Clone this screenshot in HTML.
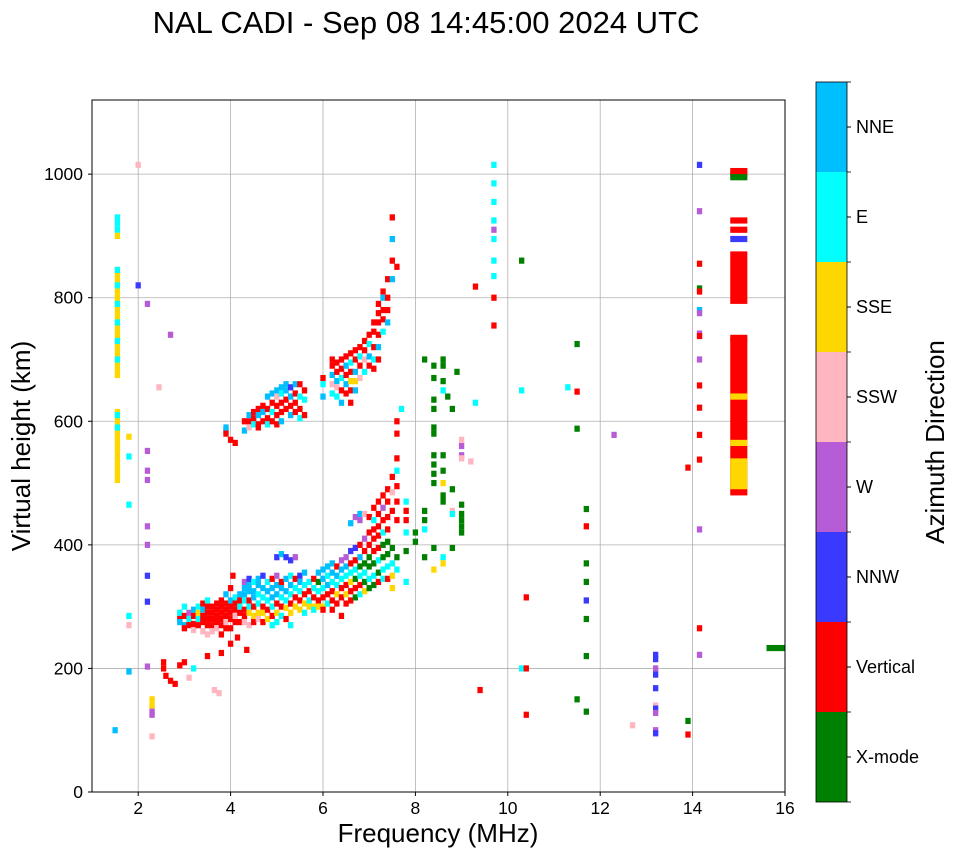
<!DOCTYPE html>
<html><head><meta charset="utf-8"><style>
body{margin:0;background:#fff;font-family:"Liberation Sans",sans-serif}
</style></head><body>
<svg id="chart" width="958" height="857" xmlns="http://www.w3.org/2000/svg" font-family="Liberation Sans, sans-serif">
<text x="426" y="33" font-size="31" text-anchor="middle">NAL CADI - Sep 08 14:45:00 2024 UTC</text>
<g id="grid"></g>
<g id="marks"></g>
<rect x="92" y="100" width="693" height="692" fill="none" stroke="#000" stroke-width="1"/>
<g id="axes"></g>
<text x="438" y="842" font-size="26" text-anchor="middle">Frequency (MHz)</text>
<text transform="translate(30,446) rotate(-90)" font-size="26" text-anchor="middle">Virtual height (km)</text>
<g id="cbar"></g>
<text transform="translate(944,442) rotate(-90)" font-size="26" text-anchor="middle">Azimuth Direction</text>
</svg>
<script>
const colorNames=["X-mode","Vertical","NNW","W","SSW","SSE","E","NNE"];
const colorValues=["#008000","#ff0000","#3a3aff","#b65cd6","#ffb6c1","#ffd700","#00ffff","#00bfff"];
const xTicks=[2,4,6,8,10,12,14,16];
const yTicks=[0,200,400,600,800,1000];
const spanFreqs=[1.55,1.55,15,15,15];
const spanLows=[670,500,790,490,485];
const spanHighs=[850,620,875,735,540];
const spanColors=[5,5,1,1,5];
const pts=[
[1.55,930,6],[1.55,920,6],[1.55,910,6],[1.55,900,5],[1.55,845,6],[1.55,820,6],[1.55,790,6],[1.55,760,6],[1.55,730,6],[1.55,700,6],[1.55,610,6],[1.55,590,6],
[2,1015,4],[2,820,2],[2.2,790,3],[2.2,552,3],[2.2,520,3],[2.2,505,3],[2.2,430,3],[2.2,400,3],[2.2,350,2],[2.2,308,2],[2.2,203,3],[1.8,575,5],[1.8,543,6],[1.8,465,6],[1.8,285,6],[1.8,270,4],[1.8,195,7],[1.5,100,7],[2.3,150,5],[2.3,140,5],[2.3,130,3],[2.3,125,3],[2.3,90,4],[2.45,655,4],[2.7,740,3],[2.55,210,1],[2.55,200,1],[2.6,188,1],[2.7,180,1],[2.8,175,1],[2.9,205,1],[3.0,210,1],[3.1,185,4],[3.2,200,6],[3.5,220,1],[3.65,165,4],[3.75,160,4],[3.8,225,1],[4.0,240,1],[4.05,350,1],[4.15,250,1],[4.35,230,1],
[2.9,290,6],[2.9,280,1],[2.9,275,7],[3.0,300,6],[3.0,285,1],[3.0,270,7],[3.0,265,1],[3.1,290,3],[3.1,280,6],[3.1,270,1],[3.2,295,7],[3.2,285,1],[3.2,272,1],[3.2,262,4],[3.3,300,6],[3.3,290,5],[3.3,280,6],[3.3,270,1],
[3.4,305,1],[3.4,295,7],[3.4,285,1],[3.4,275,1],[3.4,260,4],[3.5,310,6],[3.5,300,1],[3.5,290,1],[3.5,280,1],[3.5,270,1],[3.5,255,4],[3.6,300,1],[3.6,290,1],[3.6,280,1],[3.6,270,1],[3.6,260,4],[3.7,305,1],[3.7,295,1],[3.7,285,1],[3.7,275,1],[3.7,265,4],
[3.8,310,1],[3.8,300,1],[3.8,290,1],[3.8,280,1],[3.8,270,1],[3.8,255,1],[3.9,320,7],[3.9,305,1],[3.9,295,1],[3.9,285,1],[3.9,275,4],[3.9,265,1],[4.0,330,1],[4.0,310,7],[4.0,300,1],[4.0,290,1],[4.0,280,1],[4.0,265,1],
[4.1,315,6],[4.1,305,1],[4.1,295,1],[4.1,285,4],[4.1,275,1],[4.2,320,7],[4.2,310,1],[4.2,300,6],[4.2,290,1],[4.2,275,1],[4.3,340,3],[4.3,330,7],[4.3,320,7],[4.3,310,6],[4.3,295,1],[4.3,285,1],[4.3,275,4],
[4.4,345,2],[4.4,335,7],[4.4,325,7],[4.4,310,1],[4.4,300,6],[4.4,290,5],[4.4,270,4],[4.5,340,6],[4.5,325,7],[4.5,315,7],[4.5,300,1],[4.5,285,5],[4.5,275,1],[4.6,345,7],[4.6,335,7],[4.6,320,6],[4.6,305,6],[4.6,290,5],[4.6,280,4],
[4.7,350,2],[4.7,330,7],[4.7,315,6],[4.7,300,1],[4.7,290,5],[4.7,275,1],[4.8,340,6],[4.8,325,7],[4.8,310,6],[4.8,295,1],[4.8,280,5],[4.9,345,1],[4.9,330,7],[4.9,315,7],[4.9,300,6],[4.9,285,1],[4.9,270,6],
[5.0,380,2],[5.0,350,3],[5.0,335,7],[5.0,320,7],[5.0,305,1],[5.0,290,5],[5.0,275,6],[5.1,385,7],[5.1,340,1],[5.1,330,7],[5.1,315,6],[5.1,300,1],[5.1,285,6],[5.2,380,2],[5.2,345,7],[5.2,325,7],[5.2,310,6],[5.2,298,5],[5.2,280,1],
[5.3,375,2],[5.3,350,6],[5.3,335,7],[5.3,320,6],[5.3,305,1],[5.3,290,5],[5.3,270,6],[5.4,380,3],[5.4,345,1],[5.4,330,6],[5.4,315,1],[5.4,300,5],[5.5,350,2],[5.5,340,7],[5.5,325,6],[5.5,310,1],[5.5,295,5],
[5.6,355,7],[5.6,335,6],[5.6,320,1],[5.6,305,5],[5.6,290,6],[5.7,340,6],[5.7,325,1],[5.7,310,6],[5.7,300,5],[5.8,345,1],[5.8,330,6],[5.8,315,1],[5.8,300,5],[5.8,295,6],[5.9,355,7],[5.9,340,0],[5.9,325,6],[5.9,310,1],[5.9,300,5],
[6.0,360,7],[6.0,345,7],[6.0,330,6],[6.0,315,1],[6.0,300,5],[6.0,295,1],[6.1,365,7],[6.1,350,6],[6.1,335,7],[6.1,320,1],[6.1,305,6],[6.2,370,7],[6.2,355,7],[6.2,340,6],[6.2,325,1],[6.2,310,1],[6.2,295,1],
[6.3,365,1],[6.3,350,7],[6.3,335,6],[6.3,320,5],[6.3,305,1],[6.4,375,3],[6.4,360,7],[6.4,345,6],[6.4,330,1],[6.4,315,1],[6.4,285,1],[6.5,380,3],[6.5,365,7],[6.5,350,6],[6.5,335,1],[6.5,320,5],[6.5,305,1],
[6.6,435,7],[6.6,390,2],[6.6,370,1],[6.6,355,6],[6.6,340,5],[6.6,325,1],[6.6,310,1],[6.7,445,3],[6.7,395,2],[6.7,375,1],[6.7,360,6],[6.7,345,0],[6.7,330,1],[6.7,315,0],
[6.8,450,7],[6.8,440,3],[6.8,400,1],[6.8,380,7],[6.8,365,0],[6.8,350,6],[6.8,335,1],[6.8,320,6],[6.9,450,4],[6.9,410,3],[6.9,390,1],[6.9,370,0],[6.9,355,6],[6.9,340,0],[6.9,325,5],
[7.0,445,1],[7.0,420,1],[7.0,400,1],[7.0,380,0],[7.0,365,0],[7.0,345,6],[7.0,330,0],[7.1,460,1],[7.1,440,6],[7.1,425,1],[7.1,410,1],[7.1,390,1],[7.1,370,0],[7.1,350,6],[7.1,335,0],
[7.2,470,1],[7.2,450,1],[7.2,430,1],[7.2,415,1],[7.2,395,1],[7.2,375,6],[7.2,355,0],[7.2,340,1],[7.3,480,1],[7.3,460,3],[7.3,440,1],[7.3,420,6],[7.3,400,0],[7.3,380,0],[7.3,360,6],[7.3,345,6],
[7.4,490,1],[7.4,470,1],[7.4,445,1],[7.4,425,1],[7.4,405,0],[7.4,385,0],[7.4,365,6],[7.4,345,1],[7.5,510,1],[7.5,485,4],[7.5,455,1],[7.5,395,0],[7.5,370,6],[7.5,350,5],[7.5,330,5],
[7.6,600,1],[7.6,580,1],[7.6,540,1],[7.6,520,6],[7.6,495,1],[7.6,470,1],[7.6,440,1],[7.6,360,6],[7.8,470,6],[7.8,455,1],[7.8,440,1],[7.8,420,6],[7.8,340,6],[7.7,620,6],
[3.9,590,7],[3.9,585,7],[3.9,580,1],[4.0,570,1],[4.1,565,1],[4.3,600,1],[4.3,585,7],[4.4,600,1],[4.4,610,7],[4.4,590,4],[4.5,615,1],[4.5,605,1],[4.5,595,6],[4.6,620,1],[4.6,610,7],[4.6,595,1],[4.6,590,1],
[4.7,625,1],[4.7,615,7],[4.7,600,1],[4.8,640,7],[4.8,620,1],[4.8,605,1],[4.8,595,6],[4.9,645,7],[4.9,630,1],[4.9,615,6],[4.9,600,1],[5.0,650,7],[5.0,640,4],[5.0,625,1],[5.0,610,1],[5.0,595,1],
[5.1,655,7],[5.1,645,6],[5.1,630,1],[5.1,615,1],[5.1,600,7],[5.2,660,7],[5.2,650,7],[5.2,635,1],[5.2,620,1],[5.3,655,2],[5.3,640,7],[5.3,625,1],[5.3,610,7],[5.4,660,7],[5.4,645,1],[5.4,630,1],[5.4,615,1],
[5.5,660,1],[5.5,640,6],[5.5,620,1],[5.5,605,6],[5.6,650,1],[5.6,635,6],[5.6,610,1],[6.0,670,1],[6.0,660,6],[6.0,640,7],
[6.2,700,1],[6.2,690,1],[6.2,675,7],[6.2,660,4],[6.2,645,6],[6.3,695,1],[6.3,680,1],[6.3,665,7],[6.3,655,4],[6.3,640,6],[6.4,700,1],[6.4,685,1],[6.4,670,6],[6.4,650,1],[6.4,630,7],
[6.5,705,1],[6.5,690,7],[6.5,675,1],[6.5,660,7],[6.5,645,1],[6.6,710,1],[6.6,695,6],[6.6,680,1],[6.6,665,5],[6.6,650,1],[6.6,630,1],[6.7,715,1],[6.7,700,1],[6.7,680,7],[6.7,665,5],[6.7,650,7],
[6.8,720,1],[6.8,705,6],[6.8,690,1],[6.8,670,4],[6.9,730,1],[6.9,715,1],[6.9,700,4],[6.9,680,6],[7.0,740,1],[7.0,725,6],[7.0,705,7],[7.0,690,1],[7.1,760,1],[7.1,745,1],[7.1,720,1],[7.1,700,6],[7.1,685,1],
[7.2,790,1],[7.2,775,1],[7.2,760,1],[7.2,740,1],[7.2,720,7],[7.2,700,1],[7.3,810,1],[7.3,800,7],[7.3,780,1],[7.3,765,1],[7.3,745,6],[7.4,830,1],[7.4,800,1],[7.4,780,1],[7.4,760,7],[7.5,930,1],[7.5,895,7],[7.5,860,1],[7.5,830,7],[7.6,850,1],
[8.2,700,0],[8.4,690,0],[8.4,670,0],[8.4,635,0],[8.4,620,0],[8.6,700,0],[8.6,690,0],[8.6,665,0],[8.6,650,6],[8.7,640,0],[8.8,620,0],[8.9,680,0],[8.4,590,0],[8.4,580,0],[8.4,545,0],[8.4,530,0],[8.4,515,0],[8.4,500,0],[8.6,545,0],[8.6,520,0],[8.6,500,5],[8.6,480,0],[8.6,470,0],[8.8,490,0],[9.0,560,3],[9.0,570,4],[9.0,545,3],[9.0,540,4],[9.0,465,0],[9.0,450,0],[9.0,440,0],[9.0,430,0],[9.0,420,0],[8.8,455,4],[8.8,450,6],[8.2,455,0],[8.2,440,0],[8.2,425,6],[8.0,420,0],[8.0,405,0],[8.4,395,0],[8.6,380,6],[8.6,370,5],[8.4,360,5],[8.8,395,0],[8.2,380,0],[7.8,390,0],[7.6,380,0],
[9.2,535,4],[9.3,630,6],[9.3,818,1],[9.4,165,1],[9.7,1015,6],[9.7,985,6],[9.7,955,6],[9.7,925,6],[9.7,910,3],[9.7,895,6],[9.7,860,6],[9.7,835,6],[9.7,800,1],[9.7,755,1],
[10.3,860,0],[10.3,650,6],[10.3,200,6],[10.4,315,1],[10.4,200,1],[10.4,125,1],[11.3,655,6],[11.5,725,0],[11.5,648,1],[11.5,588,0],[11.5,150,0],[11.7,458,0],[11.7,430,1],[11.7,370,0],[11.7,340,0],[11.7,310,2],[11.7,280,0],[11.7,220,0],[11.7,130,0],[12.3,578,3],[12.7,108,4],
[13.2,222,2],[13.2,215,2],[13.2,200,3],[13.2,190,2],[13.2,168,2],[13.2,140,4],[13.2,135,2],[13.2,128,3],[13.2,100,3],[13.2,95,2],
[13.9,525,1],[13.9,115,0],[13.9,93,1],[14.15,1015,2],[14.15,940,3],[14.15,855,1],[14.15,815,0],[14.15,810,1],[14.15,780,7],[14.15,775,3],[14.15,742,3],[14.15,738,1],[14.15,700,3],[14.15,658,1],[14.15,622,1],[14.15,578,1],[14.15,538,1],[14.15,425,3],[14.15,265,1],[14.15,222,3],
[15,1005,1],[15,1000,1],[15,995,0],[15,925,1],[15,910,1],[15,895,2],[15,735,1],[15,565,5],[15,640,5],[15,485,1],[15.8,233,0]
];
const X0=92,X1=785,Y0=792,Y1=100;
const xs=f=>X0+(f-1)/15*(X1-X0);
const ys=h=>Y0-h/1120*(Y0-Y1);
const NS="http://www.w3.org/2000/svg";
function mk(tag,parent,attrs){const e=document.createElementNS(NS,tag);for(const k in attrs)e.setAttribute(k,attrs[k]);parent.appendChild(e);return e;}
const grid=document.getElementById('grid'),axes=document.getElementById('axes'),marks=document.getElementById('marks'),cbar=document.getElementById('cbar');
xTicks.forEach(t=>{const x=xs(t);
 if(t<16){const l=mk('line',grid,{x1:x,x2:x,y1:Y1,y2:Y0,stroke:'#b0b0b0','stroke-width':0.8});}
 const tk=mk('line',axes,{x1:x,x2:x,y1:Y0,y2:Y0+4,stroke:'#000'});
 const tx=mk('text',axes,{x:x,y:Y0+22,'font-size':17.5,'text-anchor':'middle'});tx.textContent=t;});
yTicks.forEach(t=>{const y=ys(t);
 if(t>0){const l=mk('line',grid,{x1:X0,x2:X1,y1:y,y2:y,stroke:'#b0b0b0','stroke-width':0.8});}
 const tk=mk('line',axes,{x1:X0-4,x2:X0,y1:y,y2:y,stroke:'#000'});
 const tx=mk('text',axes,{x:X0-9,y:y+6,'font-size':17.5,'text-anchor':'end'});tx.textContent=t;});
const cw=xs(1.115)-xs(1);
spanFreqs.forEach((f,i)=>{const w=f>=14.9?xs(1.37)-xs(1):cw;const r=mk('rect',marks,{x:xs(f)-w/2,y:ys(spanHighs[i]),width:w,height:ys(spanLows[i])-ys(spanHighs[i]),fill:colorValues[spanColors[i]]});
 });
pts.forEach(p=>{const w=p[0]>=15.5?xs(1.4)-xs(1):(p[0]>=14.9?xs(1.37)-xs(1):cw);const r=mk('rect',marks,{x:xs(p[0])-w/2,y:ys(p[1]+5),width:w,height:ys(p[1]-5)-ys(p[1]+5),fill:colorValues[p[2]]});
 });
const cbTop=82,cbH=90,cbX=816,cbW=31;
colorNames.forEach((n,i)=>{const y=cbTop+(7-i)*cbH;
 const r=mk('rect',cbar,{x:cbX,y:y,width:cbW,height:cbH,fill:colorValues[i]});
 const tk=mk('line',cbar,{x1:cbX+cbW,x2:cbX+cbW+4,y1:y+cbH/2,y2:y+cbH/2,stroke:'#000'});
 const tx=mk('text',cbar,{x:cbX+cbW+9,y:y+cbH/2+6,'font-size':18});tx.textContent=n;});
for(let i=0;i<=8;i++){const y=cbTop+i*cbH;const tk=mk('line',cbar,{x1:cbX+cbW,x2:cbX+cbW+4,y1:y,y2:y,stroke:'#000','stroke-width':0.8});}
const fr=mk('rect',cbar,{x:cbX,y:cbTop,width:cbW,height:cbH*8,fill:'none',stroke:'#000','stroke-width':0.8});


</script>
</body></html>
